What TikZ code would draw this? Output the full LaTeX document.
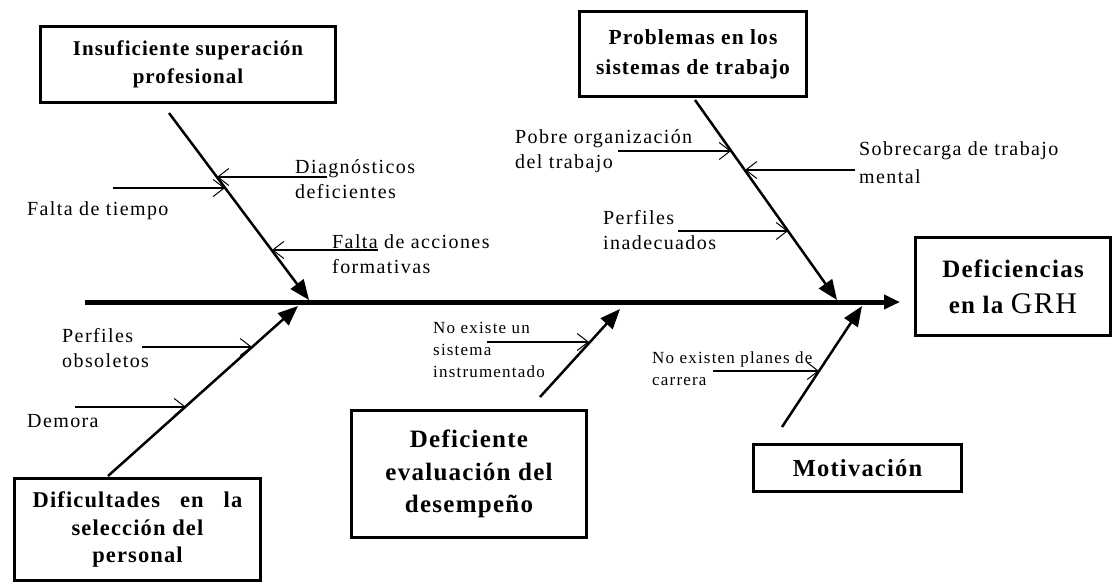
\documentclass[tikz,border=0pt]{standalone}
\usepackage{fontspec}
\setmainfont{Liberation Serif}
\newfontfamily\lsf[LetterSpace=7]{Liberation Serif}
\newfontfamily\lsb[LetterSpace=5]{Liberation Serif}
\usetikzlibrary{arrows.meta}
\newcommand{\tl}[1]{\begin{tabular}[t]{@{}l@{}}#1\end{tabular}}
\begin{document}
\begin{tikzpicture}[x=1pt,y=-1pt,
  box/.style={draw, line width=3pt, inner sep=0pt, align=center},
  lbl/.style={inner sep=0pt, anchor=base west, font=\lsf\fontsize{20}{25}\selectfont},
  sml/.style={inner sep=0pt, anchor=base west, font=\lsf\fontsize{17}{22}\selectfont},
  spine/.style={line width=5pt, -{Triangle[length=16pt,width=14pt]}},
  bone/.style={line width=2.5pt, -{Triangle[length=20pt,width=16pt]}},
  sub/.style={line width=1.1pt, -{Straight Barb[length=11pt,width=17pt,line width=1pt]}}
]
\useasboundingbox (0,0) rectangle (1115,584);

% boxes
\node[box, minimum width=295pt, minimum height=76pt, font=\lsb\bfseries\fontsize{21}{28}\selectfont] (insuf) at (188,64.5) {Insuficiente superación\\profesional};
\node[box, minimum width=227pt, minimum height=85pt, font=\lsb\bfseries\fontsize{21.5}{30}\selectfont] (probl) at (693,54) {Problemas en los\\sistemas de trabajo};
\node[box, line width=3.5pt, minimum width=195pt, minimum height=98pt, font=\lsb\bfseries\fontsize{25}{36}\selectfont] (grh) at (1013,286.5) {Deficiencias\\en la {\mdseries\fontsize{30}{36}\selectfont GRH}};
\node[box, minimum width=246pt, minimum height=102pt, font=\lsb\bfseries\fontsize{22.5}{27.5}\selectfont] (selec) at (137.5,529.5) {Dificultades\hspace{20pt}en\hspace{20pt}la\\selección del\\personal};
\node[box, minimum width=235pt, minimum height=127pt, font=\lsb\bfseries\fontsize{25}{32.5}\selectfont] (evalu) at (469,474) {Deficiente\\evaluación del\\desempeño};
\node[box, line width=2.5pt, minimum width=208pt, minimum height=47pt, font=\lsb\bfseries\fontsize{24.5}{30}\selectfont] (motiv) at (857.5,468) {Motivación};

% spine
\coordinate (sp0) at (85,302);
\coordinate (sp1) at (900,302);
\draw[spine] (sp0) -- (sp1);

% bones
\coordinate (b1s) at (169,113);  \coordinate (b1e) at (309,300);
\coordinate (b2s) at (695,100);  \coordinate (b2e) at (837,300);
\coordinate (b3s) at (108,476);  \coordinate (b3e) at (298,306);
\coordinate (b4s) at (540,397);  \coordinate (b4e) at (620,309);
\coordinate (b5s) at (782,427);  \coordinate (b5e) at (862,306);
\draw[bone] (b1s) -- (b1e);
\draw[bone] (b2s) -- (b2e);
\draw[bone] (b3s) -- (b3e);
\draw[bone] (b4s) -- (b4e);
\draw[bone] (b5s) -- (b5e);

% sub causes
\coordinate (a1s) at (113,188); \coordinate (a1e) at (225,188);
\coordinate (a2s) at (327,177); \coordinate (a2e) at (217,177);
\coordinate (a3s) at (378,250); \coordinate (a3e) at (272,250);
\coordinate (a4s) at (618,151); \coordinate (a4e) at (731,151);
\coordinate (a5s) at (855,170); \coordinate (a5e) at (745,170);
\coordinate (a6s) at (678,231); \coordinate (a6e) at (788,231);
\coordinate (a7s) at (142,347); \coordinate (a7e) at (252,347);
\coordinate (a8s) at (75,407);  \coordinate (a8e) at (186,407);
\coordinate (a9s) at (487,342); \coordinate (a9e) at (589,342);
\coordinate (a10s) at (713,371); \coordinate (a10e) at (819,371);
\foreach \i in {1,...,10} {\draw[sub] (a\i s) -- (a\i e);}

% labels
\node[lbl] (t1) at (27,215) {Falta de tiempo};
\node[lbl] (t2) at (295,173) {\tl{Diagnósticos\\deficientes}};
\node[lbl] (t3) at (332,248) {\tl{Falta de acciones\\formativas}};
\node[lbl] (t4) at (515,143) {\tl{Pobre organización\\del trabajo}};
\node[lbl, font=\lsf\fontsize{20}{28}\selectfont] (t5) at (859,155) {\tl{Sobrecarga de trabajo\\mental}};
\node[lbl] (t6) at (603,224) {\tl{Perfiles\\inadecuados}};
\node[lbl] (t7) at (62,342) {\tl{Perfiles\\obsoletos}};
\node[lbl] (t8) at (27,427) {Demora};
\node[sml] (t9) at (433,333) {\tl{No existe un\\sistema\\instrumentado}};
\node[sml] (t10) at (652,363) {\tl{No existen planes de\\carrera}};
\end{tikzpicture}
\end{document}
